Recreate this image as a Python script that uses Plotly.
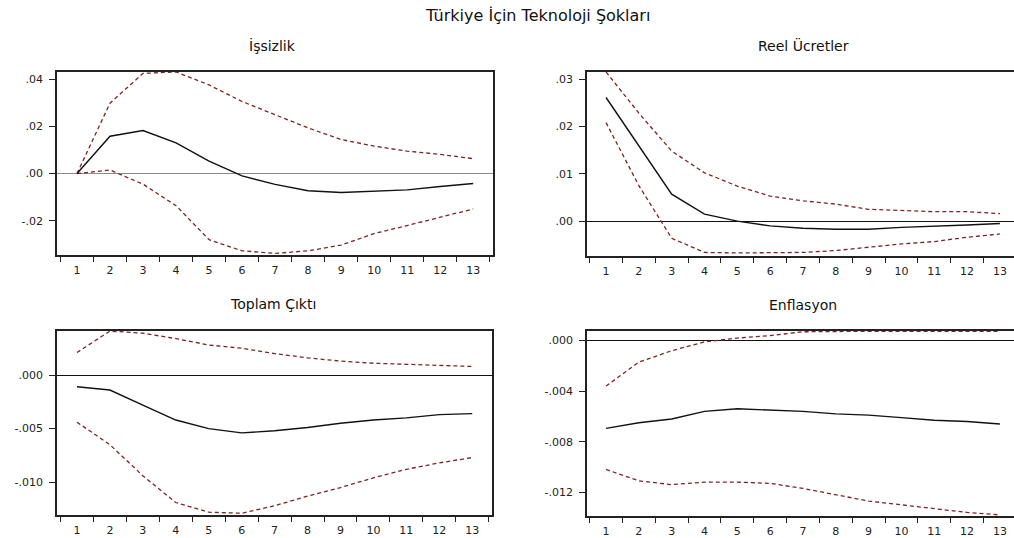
import plotly.graph_objects as go

periods = list(range(1, 14))

main_title = "Türkiye İçin Teknoloji Şokları"
panel_titles = ["İşsizlik", "Reel Ücretler", "Toplam Çıktı", "Enflasyon"]

issizlik_mid = [0.0, 0.0158, 0.0182, 0.0130, 0.0053, -0.0010, -0.0046, -0.0073, -0.0080, -0.0073, -0.0069, -0.0055, -0.0042]
issizlik_up = [0.0, 0.0298, 0.0424, 0.0430, 0.0375, 0.0305, 0.0249, 0.0193, 0.0144, 0.0116, 0.0095, 0.0081, 0.0063]
issizlik_lo = [0.0, 0.0015, -0.0045, -0.0136, -0.0280, -0.0327, -0.0338, -0.0327, -0.0303, -0.0254, -0.0220, -0.0185, -0.0150]

reel_mid = [0.0261, 0.0158, 0.0057, 0.0015, 0.0, -0.0010, -0.0015, -0.0017, -0.0017, -0.0013, -0.0011, -0.0008, -0.0005]
reel_up = [0.0315, 0.0228, 0.0148, 0.0102, 0.0074, 0.0053, 0.0043, 0.0036, 0.0025, 0.0022, 0.0020, 0.0020, 0.0016]
reel_lo = [0.0208, 0.0075, -0.0036, -0.0066, -0.0067, -0.0067, -0.0066, -0.0062, -0.0055, -0.0048, -0.0043, -0.0034, -0.0027]

cikti_mid = [-0.0011, -0.0014, -0.0028, -0.0042, -0.0050, -0.0054, -0.0052, -0.0049, -0.0045, -0.0042, -0.0040, -0.0037, -0.0036]
cikti_up = [0.0021, 0.0041, 0.0039, 0.0034, 0.0028, 0.0025, 0.0020, 0.0016, 0.0013, 0.0011, 0.0010, 0.0009, 0.0008]
cikti_lo = [-0.0044, -0.0065, -0.0094, -0.0119, -0.0128, -0.0129, -0.0122, -0.0113, -0.0105, -0.0096, -0.0088, -0.0082, -0.0077]

enf_mid = [-0.00695, -0.0065, -0.0062, -0.0056, -0.0054, -0.0055, -0.0056, -0.0058, -0.0059, -0.0061, -0.0063, -0.0064, -0.0066]
enf_up = [-0.0036, -0.0017, -0.0008, -0.0001, 0.0002, 0.0004, 0.0007, 0.00074, 0.00074, 0.00074, 0.00074, 0.00074, 0.00074]
enf_lo = [-0.0102, -0.0111, -0.0114, -0.0112, -0.0112, -0.0113, -0.0117, -0.0122, -0.0127, -0.0130, -0.0133, -0.0136, -0.0138]

y_tickvals = [[0.04, 0.02, 0.0, -0.02], [0.03, 0.02, 0.01, 0.0], [0.0, -0.005, -0.010], [0.0, -0.004, -0.008, -0.012]]
y_ticktext = [[".04", ".02", ".00", "-.02"], [".03", ".02", ".01", ".00"], [".000", "-.005", "-.010"], [".000", "-.004", "-.008", "-.012"]]

series = [
    (issizlik_mid, issizlik_up, issizlik_lo),
    (reel_mid, reel_up, reel_lo),
    (cikti_mid, cikti_up, cikti_lo),
    (enf_mid, enf_up, enf_lo),
]

W, H = 1014, 538
# pixel boxes: (left, right, top, bottom)
boxes = [(57, 493, 72, 256), (587, 1014, 72, 257), (57, 492, 332, 517), (587, 1014, 332, 518)]
x_ranges = [[0.394, 13.6], [0.42, 13.43], [0.394, 13.6], [0.42, 13.43]]
y_ranges = [[-0.0345, 0.0431], [-0.00736, 0.03154], [-0.01307, 0.00413], [-0.01389, 0.00078]]
zero_colors = ["#8a8a8a", "#111111", "#111111", "#111111"]
zero_widths = [1, 1.3, 1.3, 1.3]
title_pos = [(272, 46), (803, 46), (273, 305), (803, 306)]

FONT = "DejaVu Sans"
band_color = "#7a2424"

fig = go.Figure()
layout = dict(
    width=W, height=H,
    margin=dict(l=0, r=0, t=0, b=0),
    paper_bgcolor="white", plot_bgcolor="white",
    showlegend=False,
    font=dict(family=FONT, color="#111"),
)
annotations = [dict(text=main_title, x=537 / W, y=1 - 16 / H, xref="paper", yref="paper",
                    showarrow=False, font=dict(size=16, family=FONT, color="#111"),
                    xanchor="center", yanchor="middle")]

for i, (mid, up, lo) in enumerate(series):
    n = i + 1
    xa = "x" if n == 1 else f"x{n}"
    ya = "y" if n == 1 else f"y{n}"
    for vals, col, dash, wd in [(up, band_color, "4px,3px", 1.3), (lo, band_color, "4px,3px", 1.3), (mid, "#111111", "solid", 1.4)]:
        fig.add_trace(go.Scatter(x=periods, y=vals, mode="lines", xaxis=xa, yaxis=ya,
                                 line=dict(color=col, width=wd, dash=dash), hoverinfo="skip"))
    l, r, t, b = boxes[i]
    right_panel = i in (1, 3)
    layout["xaxis" if n == 1 else f"xaxis{n}"] = dict(
        domain=[l / W, r / W], range=x_ranges[i], anchor=ya,
        tickmode="array", tickvals=periods, ticktext=[str(p) for p in periods],
        ticks="", showgrid=False, zeroline=False,
        showline=True, linecolor="#222", linewidth=1.6, mirror=True,
        tickfont=dict(size=11, family=FONT, color="#222"), ticklabelstandoff=4,
        minor=dict(tickmode="array", tickvals=[p - 0.5 for p in periods] + [13.5],
                   ticks="outside", ticklen=5, tickcolor="#222", tickwidth=1.2, showgrid=False),
    )
    layout["yaxis" if n == 1 else f"yaxis{n}"] = dict(
        domain=[1 - b / H, 1 - t / H], range=y_ranges[i], anchor=xa,
        tickmode="array", tickvals=y_tickvals[i], ticktext=y_ticktext[i],
        ticks="outside", ticklen=6, tickcolor="#222", tickwidth=1.2,
        showgrid=False, zeroline=True, zerolinecolor=zero_colors[i], zerolinewidth=zero_widths[i],
        showline=True, linecolor="#222", linewidth=1.6, mirror=not right_panel,
        tickfont=dict(size=11, family=FONT, color="#222"), ticklabelstandoff=4,
    )
    tx, ty = title_pos[i]
    annotations.append(dict(text=panel_titles[i], x=tx / W, y=1 - ty / H, xref="paper", yref="paper",
                            showarrow=False, font=dict(size=14, family=FONT, color="#111"),
                            xanchor="center", yanchor="middle"))

layout["annotations"] = annotations
fig.update_layout(**layout)
fig.write_html("out.html")
